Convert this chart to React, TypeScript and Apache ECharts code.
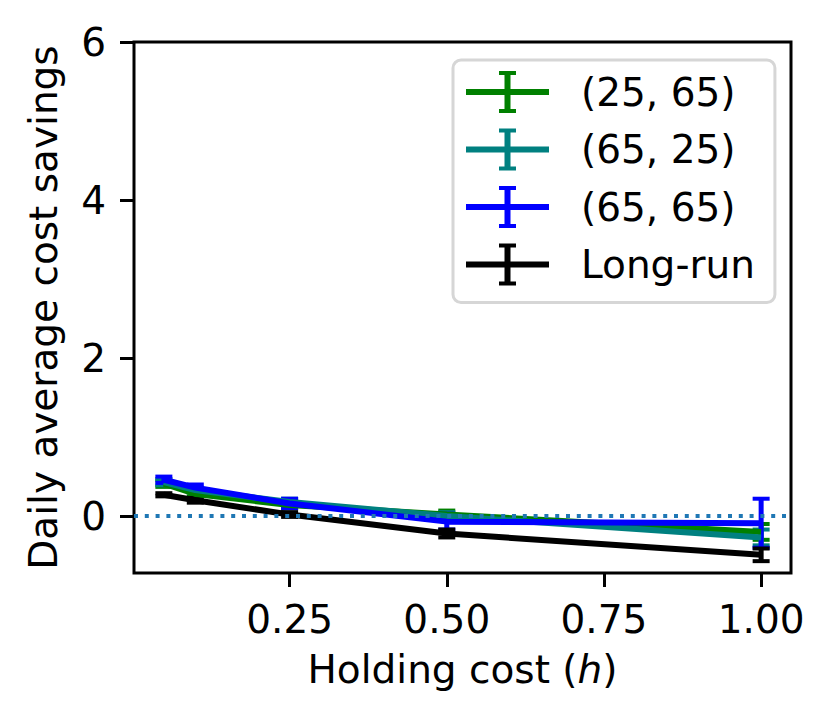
import React, { useEffect, useRef } from "react";
import * as echarts from "echarts";

// Holding cost values (x)
const holdingCost = [0.05, 0.1, 0.25, 0.5, 1.0];

// Series values (daily average cost savings) and error half-widths
const s25_65 = [0.41, 0.28, 0.14, 0.02, -0.2];
const s25_65Err = [0.04, 0.03, 0.04, 0.05, 0.1];
const s65_25 = [0.43, 0.33, 0.18, 0.0, -0.27];
const s65_25Err = [0.04, 0.03, 0.04, 0.05, 0.1];
const s65_65 = [0.46, 0.36, 0.16, -0.07, -0.09];
const s65_65Err = [0.04, 0.04, 0.06, 0.1, 0.31];
const longRun = [0.27, 0.2, 0.02, -0.22, -0.49];
const longRunErr = [0.02, 0.03, 0.03, 0.05, 0.08];

const seriesNames = ["(25, 65)", "(65, 25)", "(65, 65)", "Long-run"];
const seriesColors = ["#008000", "#008080", "#0000ff", "#000000"];

const xTicks = [0.25, 0.5, 0.75, 1.0];
const yTicks = [0, 2, 4, 6];

const FONT = "DejaVu Sans";
const FS = 39;

const ICON =
  "path://M0,18H83V24H0Z M38.5,0H44.5V42H38.5Z M33,0H50V4H33Z M33,38H50V42H33Z";

export default function App() {
  const ref = useRef<HTMLDivElement>(null);

  useEffect(() => {
    if (!ref.current) return;
    const chart = echarts.init(ref.current, null, { renderer: "svg" });

    const groups = [
      { vals: s25_65, errs: s25_65Err },
      { vals: s65_25, errs: s65_25Err },
      { vals: s65_65, errs: s65_65Err },
      { vals: longRun, errs: longRunErr },
    ];

    const series: any[] = [];
    groups.forEach((g, i) => {
      const color = seriesColors[i];
      const line: any = {
        name: seriesNames[i],
        type: "line",
        data: holdingCost.map((x, k) => [x, g.vals[k]]),
        symbol: "none",
        color,
        lineStyle: { color, width: 6 },
        z: 2,
      };
      if (i === 0) {
        line.markLine = {
          silent: true,
          symbol: "none",
          label: { show: false },
          lineStyle: { color: "#1f77b4", width: 4, type: [4, 6.8] },
          data: [{ yAxis: 0 }],
        };
      }
      series.push(line);
      series.push({
        name: seriesNames[i] + " err",
        type: "custom",
        z: 2,
        data: holdingCost.map((x, k) => [
          x,
          g.vals[k] - g.errs[k],
          g.vals[k] + g.errs[k],
        ]),
        encode: { x: 0, y: [1, 2] },
        renderItem: (params: any, api: any) => {
          const x = api.value(0);
          const lo = api.value(1);
          const hi = api.value(2);
          const pHi = api.coord([x, hi]);
          const pLo = api.coord([x, lo]);
          const hw = 8.5;
          return {
            type: "group",
            children: [
              {
                type: "line",
                shape: { x1: pHi[0], y1: pHi[1], x2: pLo[0], y2: pLo[1] },
                style: { stroke: color, lineWidth: 5 },
              },
              {
                type: "line",
                shape: { x1: pHi[0] - hw, y1: pHi[1], x2: pHi[0] + hw, y2: pHi[1] },
                style: { stroke: color, lineWidth: 4 },
              },
              {
                type: "line",
                shape: { x1: pLo[0] - hw, y1: pLo[1], x2: pLo[0] + hw, y2: pLo[1] },
                style: { stroke: color, lineWidth: 4 },
              },
            ],
          };
        },
      });
    });

    chart.setOption({
      animation: false,
      textStyle: { fontFamily: FONT },
      grid: {
        left: 134,
        right: 41,
        top: 42,
        bottom: 153,
        show: true,
        borderColor: "#000",
        borderWidth: 3,
        backgroundColor: "transparent",
      },
      legend: {
        orient: "vertical",
        left: 453,
        top: 60,
        padding: [11, 20, 17, 13],
        itemWidth: 83,
        itemHeight: 42,
        itemGap: 15.5,
        backgroundColor: "rgba(255,255,255,0.8)",
        borderColor: "#d6d6d6",
        borderWidth: 3,
        borderRadius: 8,
        itemStyle: { borderWidth: 0 },
        textStyle: {
          fontFamily: FONT,
          fontSize: FS,
          color: "#000",
          lineHeight: 42,
          padding: [0, 0, 0, 27],
        },
        data: seriesNames.map((n) => ({ name: n, icon: ICON })),
        selectedMode: false,
      },
      xAxis: {
        type: "value",
        position: "bottom",
        min: 0.0025,
        max: 1.0475,
        splitLine: { show: false },
        axisLine: { show: false, onZero: false },
        axisTick: {
          show: true,
          length: 14,
          lineStyle: { color: "#000", width: 3 },
          customValues: xTicks,
        },
        axisLabel: {
          show: true,
          margin: 27,
          fontFamily: FONT,
          fontSize: FS,
          color: "#000",
          customValues: xTicks,
          formatter: (v: number) => v.toFixed(2),
        },
        name: "Holding cost ({i|h})",
        nameLocation: "middle",
        nameGap: 77,
        nameTextStyle: {
          fontFamily: FONT,
          fontSize: FS,
          color: "#000",
          rich: {
            i: { fontFamily: FONT, fontSize: FS, fontStyle: "italic", color: "#000" },
          },
        },
      },
      yAxis: {
        type: "value",
        position: "left",
        min: -0.72,
        max: 6,
        splitLine: { show: false },
        axisLine: { show: false, onZero: false },
        axisTick: {
          show: true,
          length: 14,
          lineStyle: { color: "#000", width: 3 },
          customValues: yTicks,
        },
        axisLabel: {
          show: true,
          margin: 28,
          fontFamily: FONT,
          fontSize: FS,
          color: "#000",
          customValues: yTicks,
          formatter: (v: number) => String(Math.round(v)),
        },
        name: "Daily average cost savings",
        nameLocation: "middle",
        nameGap: 71,
        nameTextStyle: { fontFamily: FONT, fontSize: FS, color: "#000" },
      },
      series,
    });

    return () => chart.dispose();
  }, []);

  return (
    <div
      ref={ref}
      style={{ position: "fixed", left: 0, top: 0, width: 832, height: 726, background: "#fff" }}
    />
  );
}
